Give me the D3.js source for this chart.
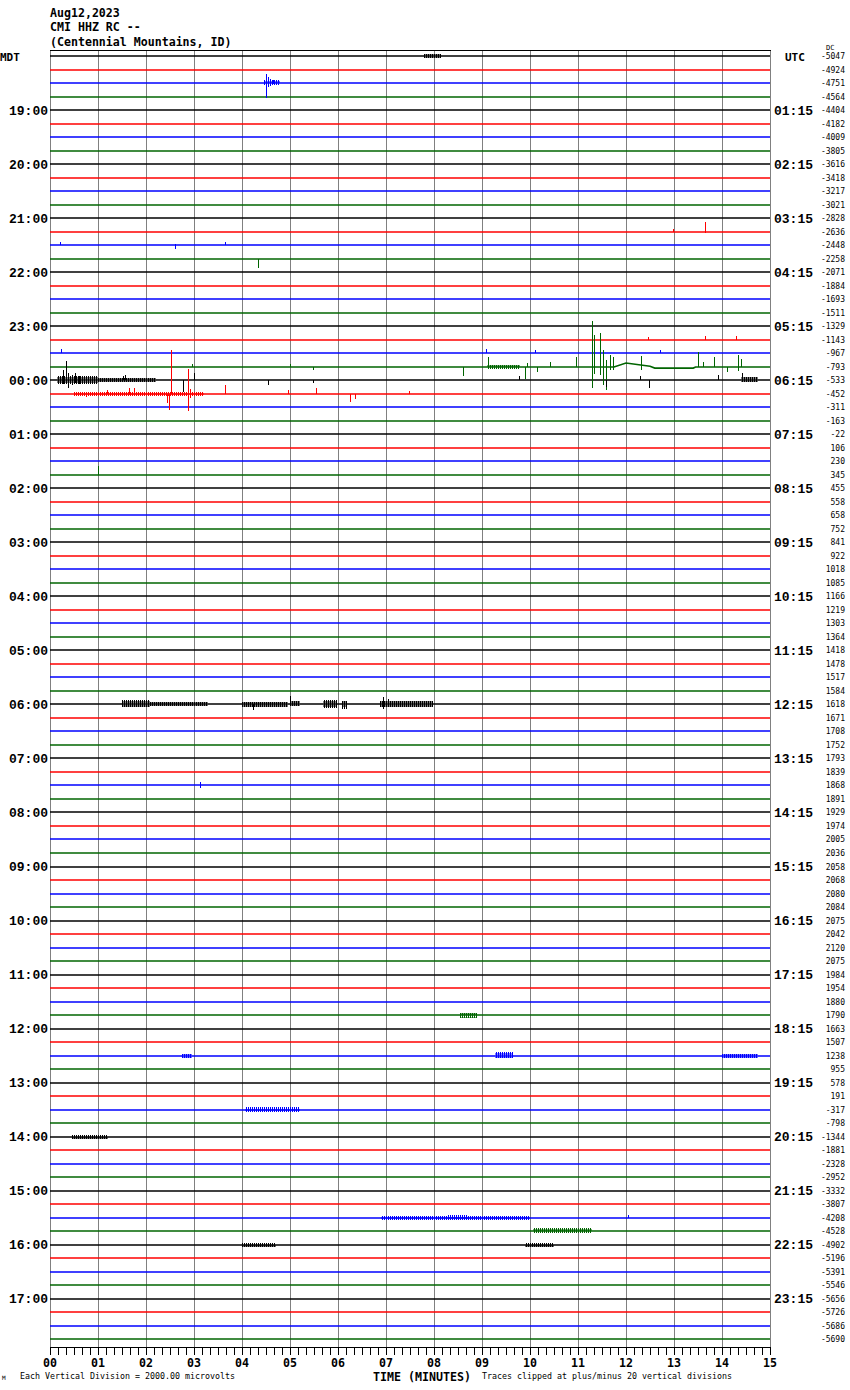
<!DOCTYPE html>
<html><head><meta charset="utf-8">
<script src="https://cdn.jsdelivr.net/npm/d3@7"></script>
<style>body{margin:0;background:#fff}svg{display:block}</style>
</head><body>
<svg id="c" width="850" height="1390"></svg>
<script>
// ---------- data ----------
const headerLines = ["Aug12,2023", "CMI HHZ RC --", "(Centennial Mountains, ID)"];
const traceColors = ["#000000", "#ff0000", "#0000ff", "#006400"];
const minuteTicks = ["00","01","02","03","04","05","06","07","08","09","10","11","12","13","14","15"];
const leftHourLabels = ["19:00","20:00","21:00","22:00","23:00","00:00","01:00","02:00","03:00","04:00","05:00","06:00",
  "07:00","08:00","09:00","10:00","11:00","12:00","13:00","14:00","15:00","16:00","17:00"];
const rightHourLabels = ["01:15","02:15","03:15","04:15","05:15","06:15","07:15","08:15","09:15","10:15","11:15","12:15",
  "13:15","14:15","15:15","16:15","17:15","18:15","19:15","20:15","21:15","22:15","23:15"];
const traceValues = [
  -5047,-4924,-4751,-4564,-4404,-4182,-4009,-3805,-3616,-3418,-3217,-3021,-2828,-2636,-2448,-2258,-2071,-1884,-1693,-1511,-1329,-1143,-967,-793,
  -533,-452,-311,-163,-22,106,230,345,455,558,658,752,841,922,1018,1085,1166,1219,1303,1364,1418,1478,1517,1584,
  1618,1671,1708,1752,1793,1839,1868,1891,1929,1974,2005,2036,2058,2068,2080,2084,2075,2042,2120,2075,1984,1954,1880,1790,
  1663,1507,1238,955,578,191,-317,-798,-1344,-1881,-2328,-2952,-3332,-3807,-4208,-4528,-4902,-5196,-5391,-5546,-5656,-5726,-5686,-5690];
// spikes: [trace, minute, up, down]  (amplitudes in trace-row units)
const spikes = [
  [2,4.50,0.67,1.1],[2,4.54,0.45,0.3],[2,4.58,0.3,0.2],[2,4.65,0.2,0.1],[2,4.75,0.22,0],
  [13,13.65,0.75,0.05],[13,12.98,0.2,0],
  [14,2.6,0.1,0.3],[14,3.65,0.22,0],[14,0.2,0.2,0],
  [15,4.33,0,0.65],
  [21,12.45,0.25,0],[21,13.65,0.3,0],[21,14.3,0.3,0],
  [22,0.22,0.3,0],[22,9.08,0.3,0],[22,10.1,0.2,0],[22,12.7,0.2,0],
  [23,0.33,0.4,0],[23,2.95,0.25,0],[23,5.0,0.22,0],[23,5.48,0,0.22],[23,8.6,0,0.67],[23,9.12,0.74,0],
  [23,9.9,0,0.9],[23,9.94,0.3,0],[23,10.14,0,0.37],[23,10.42,0.37,0],[23,10.96,0.74,0],
  [23,11.30,3.4,1.55],[23,11.33,2.37,0.5],[23,11.46,2.5,0.6],[23,11.53,1.26,1.33],[23,11.58,0.5,1.7],
  [23,11.67,0.9,0.2],[23,11.73,0.75,0.2],[23,12.32,0.65,0.37],[23,13.5,1.1,0],[23,13.6,0.4,0],
  [23,13.83,0.74,0],[23,14.1,0,0.37],[23,14.33,0.9,0.3],[23,14.4,0.6,0],
  [24,0.2,0.3,0.2],[24,0.28,0.74,0.3],[24,0.33,1.4,0.2],[24,0.38,0.52,0.6],[24,0.45,0.4,0.4],[24,0.52,0.5,0.2],
  [24,0.6,0.3,0.3],[24,0.7,0.2,0.15],[24,1.52,0.3,0],[24,1.56,0.37,0],[24,2.78,0,0.9],[24,2.88,0,0.67],
  [24,2.99,0.52,0],[24,4.54,0,0.37],[24,5.48,0,0.2],[24,9.77,0.3,0],[24,11.58,0,0.52],[24,12.3,0.3,0],
  [24,12.47,0,0.6],[24,13.92,0.37,0],[24,14.41,0.52,0.1],
  [25,0.76,0,0.22],[25,1.18,0.3,0],[25,1.65,0.45,0.1],[25,1.75,0.45,0],[25,2.43,0,0.67],[25,2.47,0,1.2],
  [25,2.52,3.25,0],[25,2.88,1.85,1.25],[25,2.92,0.4,0.3],[25,3.65,0.67,0],[25,4.96,0.3,0],[25,5.54,0.45,0],
  [25,6.25,0,0.6],[25,6.35,0,0.35],[25,7.48,0.2,0],
  [31,1.0,0.65,0],
  [48,1.95,0.3,0],[48,4.22,0,0.45],[48,4.99,0.6,0.1],[48,6.94,0.5,0.35],[48,7.05,0.35,0.25],
  [54,3.12,0.2,0.25],
  [86,12.05,0.25,0]
];
// bursts: [trace, fromMinute, toMinute, up, down]
const bands = [
  [0,7.8,8.15,0.1,0.1],[2,4.45,4.8,0.12,0.1],
  [23,9.1,9.8,0.1,0.08],[24,0.15,1.0,0.22,0.2],[24,1.0,2.2,0.1,0.08],[24,14.4,14.75,0.12,0.08],
  [25,0.5,3.2,0.08,0.08],
  [48,1.49,2.08,0.22,0.18],[48,2.08,3.3,0.06,0.06],[48,4.0,4.95,0.1,0.12],[48,5.0,5.2,0.15,0.1],
  [48,5.69,5.97,0.25,0.2],[48,6.08,6.18,0.15,0.3],[48,6.88,7.98,0.18,0.18],
  [71,8.55,8.9,0.04,0.15],
  [74,9.27,9.65,0.22,0.1],[74,2.75,2.95,0.1,0.04],[74,14.0,14.75,0.08,0.04],
  [78,4.06,5.2,0.12,0.1],[80,0.45,1.2,0.08,0.06],
  [86,6.9,10.0,0.06,0.05],[86,8.3,8.7,0.12,0.1],[87,10.07,11.3,0.12,0.1],
  [88,4.0,4.7,0.06,0.06],[88,9.9,10.5,0.06,0.06]
];
// baseline drift points: [trace, minute, offset]
const drifts = [
  [23,11.75,0],[23,12.0,0.3],[23,12.5,0.05],[23,12.6,-0.08],[23,13.4,-0.08],[23,13.45,0]
];

// ---------- drawing ----------
const svg = d3.select("#c");
const nTr = traceValues.length;
const x = d3.scaleLinear().domain([0, 15]).range([50, 770]);
const y = d3.scaleLinear().domain([0, nTr - 1]).range([56, 1339.3]);
const rowH = y(1) - y(0);
const amp = d3.scaleLinear().domain([0, 1]).range([0, rowH]);
const mono = "'DejaVu Sans Mono', monospace";
const lmono = "'Liberation Mono', 'DejaVu Sans Mono', monospace";

// hatch patterns for bursts
const defs = svg.append("defs");
traceColors.forEach((c, i) => {
  const p = defs.append("pattern").attr("id", "hatch" + i).attr("patternUnits", "userSpaceOnUse")
    .attr("width", 2).attr("height", 4);
  p.append("rect").attr("x", 0).attr("y", 0).attr("width", 1).attr("height", 4).attr("fill", c);
  p.append("rect").attr("x", 1).attr("y", 1).attr("width", 1).attr("height", 2).attr("fill", c).attr("opacity", 0.5);
});

// grid
const frameTop = 50.5, axisY = 1346.5;
svg.append("g").attr("shape-rendering", "crispEdges").selectAll("line").data(d3.range(0, 16)).join("line")
  .attr("x1", d => Math.round(x(d)) + 0.5).attr("x2", d => Math.round(x(d)) + 0.5)
  .attr("y1", frameTop).attr("y2", axisY)
  .attr("stroke", "#808080").attr("stroke-width", 1);
svg.append("line").attr("x1", 50).attr("x2", 771).attr("y1", frameTop).attr("y2", frameTop)
  .attr("stroke", "#000").attr("stroke-width", 1);

function basePts(t) {
  const pts = [[0, 0], [15, 0]].concat(drifts.filter(d => d[0] === t).map(d => [d[1], d[2]]));
  pts.sort((a, b) => a[0] - b[0]);
  return pts;
}
function baseAt(t, m) {
  const pts = basePts(t);
  for (let i = 1; i < pts.length; i++) {
    if (m <= pts[i][0]) {
      const a = pts[i - 1], b = pts[i];
      const f = (m - a[0]) / ((b[0] - a[0]) || 1);
      return a[1] + f * (b[1] - a[1]);
    }
  }
  return 0;
}
const yBase = t => Math.round(y(t));

const gTr = svg.append("g");
d3.range(nTr).forEach(t => {
  const col = traceColors[t % 4];
  const line = d3.line().x(d => x(d[0])).y(d => yBase(t) - amp(d[1]));
  gTr.append("path").attr("d", line(basePts(t))).attr("fill", "none")
    .attr("stroke", col).attr("stroke-width", 1.6);
});
gTr.append("g").attr("shape-rendering", "crispEdges").selectAll("rect").data(bands).join("rect")
  .attr("x", d => x(d[1])).attr("width", d => x(d[2]) - x(d[1]))
  .attr("y", d => yBase(d[0]) - amp(baseAt(d[0], d[1])) - amp(d[3]) - 1)
  .attr("height", d => amp(d[3] + d[4]) + 2)
  .attr("fill", d => `url(#hatch${d[0] % 4})`);
gTr.append("g").attr("shape-rendering", "crispEdges").selectAll("line").data(spikes).join("line")
  .attr("x1", d => Math.round(x(d[1])) + 0.5).attr("x2", d => Math.round(x(d[1])) + 0.5)
  .attr("y1", d => yBase(d[0]) - amp(baseAt(d[0], d[1])) - amp(d[2]))
  .attr("y2", d => yBase(d[0]) - amp(baseAt(d[0], d[1])) + amp(d[3]))
  .attr("stroke", d => traceColors[d[0] % 4]).attr("stroke-width", 1.4);

// header
svg.append("g").selectAll("text").data(headerLines).join("text")
  .attr("x", 50).attr("y", (d, i) => 16.5 + i * 14.5)
  .attr("font-family", mono).attr("font-weight", "bold").attr("font-size", 11.6)
  .text(d => d);
svg.append("text").attr("x", 0).attr("y", 61).attr("font-family", mono).attr("font-weight", "bold")
  .attr("font-size", 11).text("MDT");
svg.append("text").attr("x", 785).attr("y", 61).attr("font-family", mono).attr("font-weight", "bold")
  .attr("font-size", 11).text("UTC");

svg.append("g").selectAll("text").data(leftHourLabels).join("text")
  .attr("x", 48).attr("y", (d, i) => y((i + 1) * 4) + 4.5).attr("text-anchor", "end")
  .attr("font-family", lmono).attr("font-weight", "bold").attr("font-size", 13).text(d => d);
svg.append("g").selectAll("text").data(rightHourLabels).join("text")
  .attr("x", 774).attr("y", (d, i) => y((i + 1) * 4) + 4.5)
  .attr("font-family", lmono).attr("font-weight", "bold").attr("font-size", 13).text(d => d);

svg.append("g").selectAll("text").data(traceValues).join("text")
  .attr("x", 845).attr("y", (d, i) => y(i) + 3).attr("text-anchor", "end")
  .attr("font-family", mono).attr("font-size", 8).text(d => d);
svg.append("text").attr("x", 826).attr("y", 50).attr("font-family", mono).attr("font-size", 7).text("DC");

const gAx = svg.append("g").attr("transform", `translate(0,${axisY})`).attr("shape-rendering", "crispEdges");
gAx.call(d3.axisBottom(x).tickValues(d3.range(0, 91).map(i => i / 6)).tickSize(8).tickFormat(""))
  .call(g => g.select(".domain").attr("d", "M50,0.5H770").attr("stroke", "#000"))
  .call(g => g.selectAll(".tick line").attr("stroke", "#000"));
svg.append("g").selectAll("text").data(minuteTicks).join("text")
  .attr("x", (d, i) => x(i)).attr("y", 1367).attr("text-anchor", "middle")
  .attr("font-family", mono).attr("font-weight", "bold").attr("font-size", 12)
  .attr("textLength", 14).attr("lengthAdjust", "spacingAndGlyphs").text(d => d);

svg.append("text").attr("x", 20).attr("y", 1379).attr("font-family", mono).attr("font-size", 8.3)
  .attr("textLength", 215).attr("lengthAdjust", "spacingAndGlyphs")
  .text("Each Vertical Division = 2000.00 microvolts");
svg.append("text").attr("x", 373).attr("y", 1381).attr("font-family", mono).attr("font-weight", "bold")
  .attr("font-size", 12).attr("textLength", 98).attr("lengthAdjust", "spacingAndGlyphs").text("TIME (MINUTES)");
svg.append("text").attr("x", 482).attr("y", 1379).attr("font-family", mono).attr("font-size", 8.3)
  .attr("textLength", 250).attr("lengthAdjust", "spacingAndGlyphs")
  .text("Traces clipped at plus/minus 20 vertical divisions");
svg.append("text").attr("x", 2).attr("y", 1380).attr("font-family", mono).attr("font-size", 6).text("M");
</script>
</body></html>
